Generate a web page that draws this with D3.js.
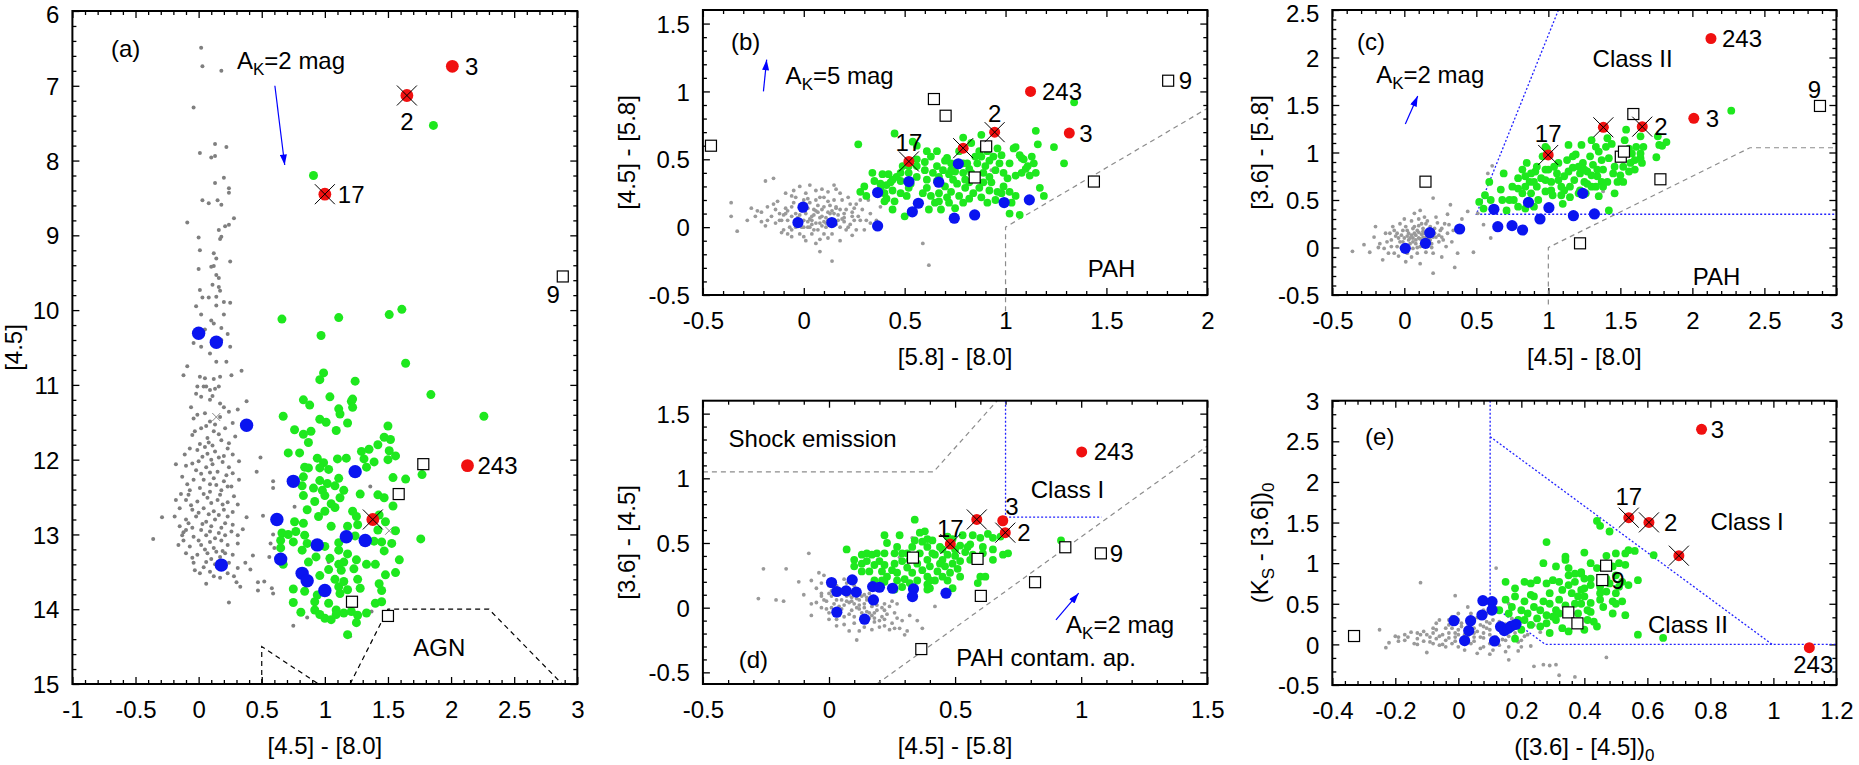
<!DOCTYPE html>
<html>
<head>
<meta charset="utf-8">
<script src="https://cdn.jsdelivr.net/npm/d3@7"></script>
<style>
    body { margin: 0; background: #fff; }
    svg text { font-family: "Liberation Sans", Arial, Helvetica, sans-serif; fill: #000; }
</style>
</head>
<body>
<svg id="chart" width="1859" height="765"></svg>
<script>
// ---- panel (a): [4.5] vs [4.5]-[8.0] ----
const aXTicks = [-1, -0.5, 0, 0.5, 1, 1.5, 2, 2.5, 3];
const aYTicks = [6, 7, 8, 9, 10, 11, 12, 13, 14, 15];
const aGray = [
    [0.02,6.49],[0.03,6.74],[0.18,6.80],[-0.04,7.29],[0.01,7.90],[0.13,7.78],[0.22,7.82],[0.10,7.96],[0.13,7.94],[0.20,8.23],
    [0.13,8.30],[0.24,8.37],[0.24,8.43],[0.03,8.53],[0.08,8.57],[0.15,8.53],[0.18,8.59],[-0.09,8.83],[0.28,8.77],[0.24,8.86],
    [0.21,8.88],[0.16,8.93],[0.00,9.03],[0.18,9.02],[0.17,9.05],[0.01,9.20],[0.12,9.24],[0.14,9.31],[0.25,9.35],[0.00,9.45],
    [0.10,9.42],[0.12,9.41],[0.14,9.53],[0.16,9.57],[0.11,9.66],[0.16,9.69],[0.17,9.74],[0.01,9.73],[0.03,9.83],[0.08,9.83],
    [0.14,9.82],[0.20,9.89],[0.25,9.90],[-0.02,9.95],[0.14,9.94],[0.02,10.06],[0.20,10.06],[0.10,10.14],[0.12,10.18],[0.05,10.26],
    [0.18,10.24],[0.23,10.32],[-0.02,10.32],[0.02,10.49],[0.18,10.40],[0.25,10.49],[-0.04,10.44],[0.09,10.58],[0.14,10.69],[0.22,10.69],
    [0.34,10.81],[-0.09,10.75],[-0.12,10.87],[0.01,10.89],[0.05,10.91],[0.12,10.92],[0.17,10.89],[0.26,10.87],[-0.01,11.02],[0.04,11.02],
    [0.09,11.07],[0.16,11.02],[0.06,11.02],[0.13,11.05],[0.02,11.16],[0.09,11.20],[0.17,11.25],[0.38,11.22],[0.31,11.33],[0.24,11.36],
    [0.05,11.38],[-0.04,11.45],[0.09,11.49],[0.17,11.43],[0.02,11.58],[0.12,11.62],[0.21,11.58],[-0.05,11.67],[0.07,11.71],[0.18,11.74],
    [0.29,11.69],[-0.07,11.85],[-0.01,11.87],[0.05,11.83],[0.13,11.89],[0.23,11.85],[0.03,11.96],[0.10,12.00],[0.20,11.95],[0.32,12.02],
    [-0.18,12.06],[-0.10,12.08],[-0.02,12.14],[0.06,12.10],[0.15,12.16],[0.24,12.10],[0.49,11.97],[0.46,12.16],[-0.13,12.23],[-0.04,12.27],
    [0.04,12.27],[0.12,12.25],[0.20,12.29],[0.32,12.27],[0.59,12.29],[-0.07,12.41],[0.01,12.38],[0.09,12.43],[0.18,12.41],[0.26,12.36],
    [0.59,12.38],[-0.18,12.54],[-0.10,12.54],[-0.01,12.56],[0.07,12.51],[0.15,12.54],[0.23,12.57],[0.31,12.60],[-0.15,12.65],[-0.05,12.67],
    [0.04,12.65],[0.12,12.69],[0.20,12.67],[-0.29,12.77],[-0.19,12.76],[-0.10,12.80],[-0.02,12.76],[0.06,12.83],[0.13,12.80],[0.23,12.76],
    [0.38,12.77],[0.51,12.75],[0.76,12.63],[-0.15,12.89],[-0.05,12.91],[0.02,12.94],[0.10,12.89],[0.18,12.91],[0.27,12.87],[-0.13,13.01],
    [-0.04,13.03],[0.06,13.01],[0.13,13.05],[0.21,13.01],[0.31,13.01],[-0.36,13.06],[0.59,13.00],[-0.16,13.14],[-0.07,13.16],[0.02,13.14],
    [0.12,13.18],[0.23,13.14],[0.31,13.12],[0.57,13.12],[-0.10,13.25],[-0.01,13.27],[0.07,13.25],[0.17,13.30],[0.27,13.27],[0.56,13.30],
    [-0.04,13.38],[0.06,13.37],[0.13,13.40],[0.24,13.38],[0.37,13.38],[0.31,13.45],[0.41,13.47],[0.01,13.52],[0.12,13.56],[0.23,13.52],
    [0.30,13.64],[0.06,13.66],[0.47,13.64],[0.52,13.63],[0.47,13.75],[0.58,13.72],[0.24,13.91],[0.75,14.22],[0.86,14.11],[0.93,13.79],
    [1.03,13.37],[0.59,13.79],[1.36,12.36],[1.37,14.03],[1.20,14.36],[0.60,13.18],[-0.08,12.47],[0.00,12.02],[0.09,12.33],[-0.12,12.97],
    [0.28,12.49],[0.35,12.93],[0.43,13.28],[-0.03,13.48],[0.19,13.22],[0.33,13.70],[0.08,11.77],[0.22,12.21],[-0.06,11.30],[0.27,11.51],
    [-0.02,11.12],[0.11,11.15],[0.20,11.30],[-0.01,11.40],[0.13,11.53],[0.06,11.55],[-0.03,11.62],[0.16,11.66],[0.24,11.78],[0.01,11.79],
    [0.11,11.81],[-0.11,11.93],[0.07,11.92],[0.16,11.97],[0.27,11.93],[-0.05,12.05],[0.11,12.06],[0.19,12.03],[0.02,12.19],[0.09,12.17],
    [0.27,12.18],[-0.09,12.33],[0.14,12.34],[0.23,12.36],[0.04,12.46],[0.17,12.47],[-0.14,12.46],[0.10,12.58],[0.19,12.60],[-0.06,12.61],
    [0.00,12.71],[0.08,12.73],[0.16,12.74],[0.27,12.70],[-0.08,12.85],[0.03,12.86],[0.21,12.85],[0.09,12.96],[-0.10,12.94],[0.16,12.98],
    [0.26,12.96],[0.00,13.08],[0.09,13.10],[0.18,13.08],[-0.12,13.08],[0.05,13.20],[0.14,13.23],[0.21,13.25],[-0.05,13.31],[0.10,13.33],
    [0.19,13.43],[0.04,13.44],[0.09,13.50],[0.17,13.58],[0.28,13.56]
];
const aGrayCross = [[0.14,11.43],[1.51,12.95]];
const aGreen = [
    [0.91,8.2],[1.86,7.53],[0.66,10.12],[1.11,10.10],[1.51,10.06],[1.61,9.99],[0.97,10.34],[1.64,10.71],[0.99,10.84],[0.96,10.93],
    [1.24,10.95],[1.84,11.13],[0.83,11.2],[1.04,11.16],[1.22,11.19],[2.26,11.42],[0.67,11.42],[0.88,11.27],[1.11,11.32],[1.21,11.22],
    [1.22,11.30],[1.12,11.39],[0.96,11.46],[1.01,11.50],[1.18,11.51],[1.50,11.55],[0.76,11.6],[0.89,11.62],[0.83,11.66],[1.09,11.61],
    [1.47,11.70],[1.52,11.73],[0.87,11.77],[1.42,11.80],[0.71,11.91],[0.80,11.91],[1.29,11.89],[1.35,11.86],[1.51,11.88],[0.94,11.98],
    [0.99,12.04],[1.10,11.99],[1.17,11.98],[1.31,11.99],[1.39,12.03],[1.50,12.0],[1.56,11.95],[0.84,12.10],[0.87,12.11],[0.96,12.11],
    [1.03,12.13],[1.33,12.10],[1.77,12.20],[1.54,12.24],[1.64,12.26],[1.11,12.25],[0.83,12.23],[0.96,12.28],[1.02,12.32],[1.08,12.35],
    [0.82,12.35],[0.91,12.38],[0.98,12.41],[1.15,12.41],[1.28,12.46],[1.42,12.47],[0.83,12.48],[1.00,12.48],[1.12,12.51],[1.47,12.51],
    [1.54,12.62],[1.05,12.59],[0.92,12.56],[0.86,12.67],[1.08,12.64],[1.00,12.69],[0.76,12.83],[0.83,12.85],[0.95,12.76],[1.22,12.69],
    [1.25,12.76],[1.43,12.74],[1.48,12.83],[1.05,12.89],[1.18,12.89],[1.26,12.87],[1.42,12.94],[1.56,12.95],[0.66,12.98],[0.71,13.0],
    [0.77,12.96],[0.84,13.01],[0.65,13.08],[0.75,13.10],[0.86,13.12],[1.00,13.16],[1.11,13.11],[1.24,13.02],[1.39,13.09],[1.45,13.10],
    [1.53,13.12],[1.76,13.06],[0.65,13.18],[0.82,13.21],[1.11,13.21],[1.18,13.26],[1.47,13.22],[0.93,13.30],[1.04,13.32],[1.15,13.37],
    [1.25,13.34],[1.33,13.40],[1.40,13.40],[1.59,13.34],[0.67,13.40],[0.87,13.37],[1.11,13.40],[1.23,13.46],[1.13,13.48],[1.48,13.54],
    [1.56,13.51],[1.03,13.47],[0.96,13.55],[1.08,13.60],[1.15,13.63],[1.26,13.60],[1.43,13.66],[0.75,13.73],[0.84,13.76],[1.11,13.70],
    [1.18,13.74],[1.28,13.72],[1.45,13.75],[0.94,13.81],[1.12,13.79],[0.75,13.91],[0.92,13.90],[1.03,13.92],[1.40,13.92],[1.45,13.90],
    [0.81,14.04],[0.92,14.01],[0.96,14.07],[1.09,14.01],[1.15,14.05],[1.21,14.03],[1.26,14.08],[1.33,14.05],[1.00,14.12],[1.05,14.14],
    [1.09,14.07],[1.25,14.18],[1.18,14.34]
];
const aBlue = [[0.0,10.31],[0.14,10.43],[0.38,11.54],[1.24,12.16],[0.75,12.29],[0.62,12.80],[1.17,13.03],[1.32,13.08],[0.94,13.14],[0.65,13.33],[0.18,13.41],[0.82,13.52],[0.86,13.62],[1.0,13.75]];
const aSquares = [[2.885,9.55,"9"],[1.78,12.06,""],[1.585,12.46,""],[1.215,13.9,""],[1.5,14.09,""]];
const aRed = [[2.01,6.74,"3",false],[1.65,7.13,"2",true],[1.0,8.45,"17",true],[2.13,12.08,"243",false],[1.38,12.80,"",true]];
const aLines = [[[0.5,15],[0.5,14.5],[0.95,15]],[[1.2,15],[1.5,14],[2.3,14],[2.88,15]]];
const aArrow = [[0.604,7.0],[0.682,8.06]];

// ---- panel (b): [4.5]-[5.8] vs [5.8]-[8.0] ----
const bXTicks = [-0.5, 0, 0.5, 1, 1.5, 2];
const bYTicks = [-0.5, 0, 0.5, 1, 1.5];
const bGray = [
    [-0.19,0.34],[-0.15,0.36],[-0.36,0.18],[-0.36,0.08],[-0.33,-0.03],[-0.26,0.14],[-0.21,0.11],[-0.18,0.15],[-0.16,0.08],[-0.13,0.19],
    [-0.12,0.10],[-0.09,0.14],[-0.08,0.05],[-0.06,0.23],[-0.06,0.15],[-0.04,0.10],[-0.02,0.30],[0.0,0.20],[0.01,0.10],[0.02,0.0],
    [0.03,0.18],[0.04,0.08],[0.05,0.13],[0.06,0.20],[0.06,0.03],[0.08,0.22],[0.09,0.08],[0.10,0.15],[0.11,0.0],[0.12,0.19],
    [0.13,0.10],[0.15,0.31],[0.16,0.15],[0.17,0.05],[0.19,0.20],[0.20,0.10],[0.21,-0.02],[0.23,0.17],[0.24,0.08],[0.25,0.14],
    [0.26,-0.02],[0.28,0.20],[0.30,-0.02],[0.33,0.03],[-0.02,-0.05],[0.0,-0.07],[0.04,-0.05],[0.08,-0.09],[0.08,-0.18],[0.14,-0.25],
    [-0.06,-0.07],[-0.10,-0.02],[-0.14,0.03],[-0.18,0.05],[-0.24,0.08],[-0.21,0.04],[-0.08,-0.05],[-0.04,0.0],[0.14,-0.05],[0.18,0.0],
    [0.10,-0.05],[-0.05,0.27],[-0.09,0.25],[0.01,0.25],[0.12,0.26],[0.22,0.22],[-0.02,0.15],[0.02,0.14],[0.07,0.16],[0.11,0.07],
    [0.15,0.10],[0.18,0.13],[-0.06,0.08],[-0.10,0.09],[-0.14,0.13],[0.0,0.05],[0.04,0.02],[0.08,0.03],[0.12,0.05],[0.16,0.02],
    [-0.01,0.0],[-0.07,0.0],[-0.11,0.05],[0.20,0.04],[0.23,0.02],[0.25,0.05],[0.28,0.05],[0.31,0.05],[0.59,-0.12],[0.62,-0.28],
    [0.33,0.10],[0.93,0.42],[0.03,0.06],[0.07,0.11],[-0.03,0.04],[0.09,0.01],[0.05,-0.02],[-0.01,0.12],[0.14,0.12],[0.01,0.17],
    [-0.12,0.05],[-0.08,0.12],[-0.05,0.18],[-0.03,0.07],[0.0,0.14],[0.02,0.21],[0.03,0.0],[0.05,0.09],[0.06,0.27],[0.07,-0.02],
    [0.09,0.13],[0.10,0.22],[0.11,0.03],[0.13,0.16],[0.14,0.04],[0.15,0.20],[0.17,0.09],[0.18,0.25],[0.19,0.06],[0.21,0.13],
    [0.22,0.0],[0.24,0.11],[0.26,0.17],[0.27,0.08],[0.29,0.13],[-0.15,0.17],[-0.19,0.01],[-0.23,0.12],[-0.28,0.05],[-0.11,-0.04],
    [0.01,-0.1],[0.06,-0.12],[0.12,-0.08],[0.18,-0.1],[0.24,-0.06],[-0.04,0.22],[0.03,0.31],[0.09,0.28],[0.16,0.28],[0.36,0.05],
    [0.38,0.15],[0.32,0.2],[-0.06,-0.02],[0.0,0.0],[0.04,0.05],[0.08,0.07],[0.12,0.11],[0.16,0.14],[0.2,0.07],[-0.02,0.09],
    [0.06,0.12],[0.1,0.04],[0.14,0.01],[0.02,0.04],[-0.09,0.1]
];
const bGreen = [
    [0.27,0.61],[0.45,0.69],[0.54,0.63],[0.56,0.60],[0.34,0.40],[0.39,0.39],[0.42,0.39],[0.46,0.37],[0.48,0.40],[0.52,0.45],
    [0.56,0.45],[0.60,0.48],[0.63,0.52],[0.66,0.56],[0.61,0.56],[0.71,0.51],[0.77,0.56],[0.79,0.66],[0.83,0.62],[0.88,0.68],
    [0.91,0.56],[0.94,0.52],[0.98,0.53],[1.05,0.59],[1.07,0.53],[1.15,0.71],[1.16,0.61],[1.24,0.59],[1.29,0.47],[1.34,0.92],
    [1.11,0.45],[1.14,0.47],[1.08,0.40],[1.15,0.40],[1.17,0.29],[1.19,0.23],[1.03,0.18],[1.07,0.09],[1.02,0.10],[0.95,0.20],
    [0.96,0.26],[0.99,0.30],[1.01,0.36],[0.99,0.40],[0.95,0.42],[0.92,0.37],[0.90,0.45],[0.86,0.47],[0.82,0.43],[0.79,0.40],
    [0.75,0.41],[0.72,0.39],[0.69,0.42],[0.66,0.45],[0.64,0.40],[0.60,0.42],[0.56,0.37],[0.53,0.32],[0.48,0.34],[0.44,0.35],
    [0.41,0.31],[0.38,0.32],[0.30,0.30],[0.28,0.26],[0.31,0.23],[0.40,0.25],[0.44,0.27],[0.48,0.25],[0.51,0.23],[0.40,0.19],
    [0.45,0.19],[0.44,0.13],[0.50,0.08],[0.59,0.25],[0.61,0.29],[0.63,0.23],[0.65,0.18],[0.62,0.13],[0.67,0.25],[0.70,0.30],
    [0.71,0.22],[0.73,0.26],[0.76,0.32],[0.77,0.23],[0.80,0.29],[0.82,0.33],[0.84,0.25],[0.87,0.29],[0.89,0.33],[0.93,0.33],
    [0.92,0.27],[0.88,0.22],[0.91,0.18],[0.79,0.18],[0.75,0.14],[0.68,0.13],[0.81,0.47],[0.85,0.52],[0.88,0.52],[0.92,0.49],
    [0.73,0.47],[0.70,0.49],[0.67,0.37],[0.79,0.47],[1.02,0.47],[1.10,0.43],[1.12,0.38],[1.05,0.23],[0.61,0.35],[0.52,0.40],
    [0.49,0.45],[0.66,0.34],[0.74,0.35],[0.83,0.40],[0.89,0.40],[0.97,0.47],[1.13,0.52],[1.09,0.50],[0.96,0.58],[0.87,0.56],
    [1.04,0.58],[1.05,0.38],[1.02,0.26],[0.98,0.25],[1.08,0.51],[0.73,0.42],[0.80,0.35],[0.56,0.50],[0.43,0.33],[0.52,0.29],
    [0.38,0.28],[0.35,0.34],[0.41,0.21],[0.67,0.19],[0.72,0.18],[0.82,0.21]
];
const bBlue = [[-0.004,0.147],[-0.029,0.034],[0.139,0.034],[0.366,0.255],[0.366,0.009],[0.521,0.336],[0.669,0.331],[0.766,0.467],[0.568,0.176],[0.538,0.113],[0.746,0.066],[0.847,0.09],[0.993,0.181],[1.118,0.201]];
const bSquares = [[-0.46,0.60,""],[0.645,0.944,""],[0.703,0.821,""],[0.904,0.595,""],[0.847,0.366,""],[1.438,0.336,""],[1.806,1.079,"9"]];
const bRed = [[1.124,1.0,"243",false],[1.316,0.693,"3",false],[0.946,0.70,"2",true],[0.79,0.582,"",true],[0.521,0.484,"17",true]];
const bGrayLines = [[[1,-0.62],[1,0],[2,0.875]]];
const bArrow = [[-0.2,1.0],[-0.184,1.234]];

// ---- panel (c): [3.6]-[5.8] vs [4.5]-[8.0] ----
const cXTicks = [-0.5, 0, 0.5, 1, 1.5, 2, 2.5, 3];
const cYTicks = [-0.5, 0, 0.5, 1, 1.5, 2, 2.5];
const cGray = [
    [-0.36,-0.04],[-0.28,0.03],[-0.21,0.11],[-0.20,0.22],[-0.17,0.04],[-0.15,-0.13],[-0.13,0.15],[-0.11,-0.06],[-0.09,0.08],[-0.07,0.18],
    [-0.05,0.01],[-0.03,0.25],[-0.02,0.13],[-0.01,0.06],[0.01,0.22],[0.02,-0.06],[0.03,0.15],[0.05,0.28],[0.06,0.06],[0.06,0.20],
    [0.07,0.36],[0.08,0.13],[0.09,-0.06],[0.10,0.23],[0.11,0.09],[0.11,0.39],[0.13,0.17],[0.14,0.32],[0.16,0.01],[0.17,0.09],
    [0.18,0.22],[0.20,0.52],[0.20,-0.06],[0.21,0.15],[0.22,0.32],[0.24,0.06],[0.25,0.18],[0.26,0.11],[0.28,0.25],[0.29,0.01],
    [0.30,0.15],[0.32,0.45],[0.33,0.06],[0.35,-0.21],[0.37,-0.06],[0.48,-0.05],[0.20,-0.27],[0.60,0.10],[0.61,0.86],[0.58,0.78],
    [0.11,-0.17],[0.01,-0.15],[-0.07,-0.06],[-0.14,-0.01],[-0.10,0.15],[-0.05,0.15],[-0.01,0.18],[0.03,0.08],[0.07,0.15],[0.09,0.18],
    [0.13,0.11],[0.14,0.06],[0.17,0.15],[0.20,0.11],[0.22,0.11],[0.11,0.01],[0.06,-0.01],[-0.03,0.06],[-0.09,0.01],[1.38,0.59],
    [0.51,0.36],[0.55,0.24],[0.04,0.10],[0.08,0.04],[0.12,0.14],[-0.04,0.10],[0.15,0.25],[0.00,0.02],[0.19,0.04],[0.10,0.30],
    [-0.06,0.12],[-0.02,0.0],[0.0,0.1],[0.02,0.18],[0.04,0.04],[0.05,0.13],[0.07,0.22],[0.08,0.08],[0.09,0.0],[0.1,0.16],
    [0.12,0.25],[0.12,0.04],[0.13,0.2],[0.15,0.1],[0.16,0.28],[0.18,0.14],[0.19,0.0],[0.21,0.2],[0.23,0.26],[0.24,0.13],
    [0.26,0.2],[0.27,0.08],[0.31,0.24],[0.34,0.18],[0.4,0.3],[0.44,0.38],[-0.12,0.06],[-0.18,0.0],[-0.24,-0.05],[-0.08,0.22],
    [0.0,0.3],[0.05,-0.1],[0.15,-0.05],[0.26,-0.1],[0.3,0.35],[-0.04,-0.09],[0.06,0.1],[0.1,0.1],[0.02,0.12],[0.14,0.15],[0.18,0.08]
];
const cGreen = [
    [0.56,0.55],[0.59,0.69],[0.52,0.48],[0.55,0.41],[0.60,0.50],[0.67,0.61],[0.69,0.78],[0.68,0.50],[0.71,0.39],[0.75,0.64],
    [0.76,0.50],[0.79,0.73],[0.82,0.82],[0.82,0.57],[0.85,0.89],[0.87,0.69],[0.88,0.57],[0.91,0.80],[0.92,0.64],[0.93,0.50],
    [0.95,0.73],[0.96,0.96],[0.98,0.59],[0.99,1.04],[1.00,0.82],[1.02,0.69],[1.03,0.55],[1.06,0.78],[1.07,0.89],[1.09,0.64],
    [1.10,0.46],[1.11,0.75],[1.13,0.92],[1.14,1.08],[1.15,0.64],[1.17,0.84],[1.18,0.71],[1.19,0.98],[1.21,0.57],[1.22,0.78],
    [1.23,1.08],[1.24,0.89],[1.25,0.69],[1.27,0.80],[1.29,0.96],[1.30,0.64],[1.31,0.87],[1.33,1.06],[1.34,0.75],[1.35,0.54],
    [1.37,0.92],[1.38,0.82],[1.40,1.06],[1.41,0.69],[1.42,0.94],[1.42,0.39],[1.44,1.09],[1.45,0.78],[1.46,0.85],[1.48,0.69],
    [1.49,0.96],[1.50,0.76],[1.52,0.85],[1.53,1.13],[1.54,1.24],[1.56,1.04],[1.57,0.89],[1.58,0.99],[1.60,0.82],[1.61,1.06],
    [1.64,1.17],[1.64,0.94],[1.65,0.89],[1.66,1.06],[1.76,1.17],[1.77,1.08],[1.75,0.95],[1.79,1.07],[1.82,1.11],[2.27,1.44],
    [0.73,0.50],[0.79,0.43],[0.84,0.41],[0.90,0.43],[0.79,0.62],[0.84,0.64],[0.90,0.69],[0.84,0.75],[0.98,0.71],[1.02,0.60],
    [1.07,0.71],[1.11,0.60],[1.14,0.80],[1.21,0.85],[1.15,0.53],[1.09,0.55],[1.22,0.60],[1.26,0.57],[1.27,0.67],[1.33,0.64],
    [1.30,0.76],[1.37,0.69],[1.38,0.64],[1.46,0.57],[1.52,0.69],[1.56,0.80],[1.60,0.92],[1.64,0.99],[1.34,0.82],[1.25,0.82],
    [1.17,0.96],[1.04,0.85],[0.98,0.82],[0.92,0.85],[0.88,0.78],[1.35,1.01],[1.30,1.13],[1.41,1.15],[0.98,1.06]
];
const cBlue = [[0.007,-0.009],[0.147,0.044],[0.177,0.156],[0.384,0.195],[0.622,0.402],[0.649,0.219],[0.748,0.230],[0.821,0.184],[0.862,0.475],[0.942,0.30],[1.004,0.419],[1.174,0.335],[1.239,0.57],[1.32,0.353]];
const cSquares = [[0.147,0.693,""],[1.59,1.405,""],[1.503,0.956,""],[1.525,1.009,""],[1.778,0.718,""],[1.22,0.044,""],[2.886,1.49,"9"]];
const cRed = [[2.129,2.20,"243",false],[2.01,1.36,"3",false],[1.382,1.265,"",true],[1.652,1.272,"2",true],[0.999,0.974,"17",true]];
const cGrayLines = [[[1,-0.6],[1,0],[2.4,1.05],[3,1.05]]];
const cBlueLines = [[[1.07,2.5],[0.5,0.35],[3,0.35]]];
const cArrow = [[0.007,1.30],[0.093,1.595]];

// ---- panel (d): [3.6]-[4.5] vs [4.5]-[5.8] ----
const dXTicks = [-0.5, 0, 0.5, 1, 1.5];
const dYTicks = [-0.5, 0, 0.5, 1, 1.5];
const dGray = [
    [-0.26,0.30],[-0.17,0.30],[-0.28,0.07],[-0.21,0.06],[-0.18,0.05],[-0.08,0.42],[-0.07,0.21],[-0.04,0.27],[-0.03,0.19],[-0.03,0.11],
    [-0.02,0.06],[-0.01,-0.01],[0.0,0.17],[0.01,0.09],[0.02,0.03],[0.03,-0.04],[0.04,0.11],[0.05,0.06],[0.05,-0.01],[0.06,0.15],
    [0.06,-0.07],[0.07,0.05],[0.08,0.10],[0.09,-0.02],[0.10,0.03],[0.10,-0.07],[0.11,0.07],[0.12,-0.01],[0.13,-0.04],[0.14,0.03],
    [0.14,0.10],[0.15,-0.03],[0.16,-0.08],[0.17,0.01],[0.18,-0.04],[0.18,-0.11],[0.19,-0.02],[0.20,-0.15],[0.21,-0.07],[0.22,-0.09],
    [0.24,-0.17],[0.26,-0.16],[0.28,-0.16],[0.30,-0.21],[0.31,-0.18],[0.37,-0.16],[0.42,0.01],[0.11,-0.25],[-0.07,-0.06],[-0.03,0.0],
    [0.0,-0.04],[0.03,-0.09],[0.06,-0.13],[0.10,-0.12],[0.14,-0.15],[-0.03,0.09],[0.0,0.11],[0.03,0.17],[0.06,0.22],[0.10,0.17],
    [0.13,0.09],[0.16,0.11],[0.19,0.06],[0.22,0.03],[0.22,-0.02],[0.24,0.01],[0.27,0.03],[0.26,-0.04],[0.22,-0.14],[0.28,0.39],
    [0.33,0.54],[0.33,0.46],[0.04,0.01],[0.08,0.04],[0.12,0.02],[0.01,0.13],[0.09,0.08],[0.17,-0.06],[-0.05,0.04],[0.15,0.06],
    [-0.01,0.05],[0.01,0.0],[0.02,0.12],[0.03,0.06],[0.04,-0.02],[0.05,0.14],[0.06,0.02],[0.07,0.09],[0.08,-0.05],[0.09,0.05],
    [0.1,0.12],[0.11,0.0],[0.12,0.06],[0.13,-0.08],[0.14,0.0],[0.15,0.08],[0.16,-0.04],[0.17,0.05],[0.18,-0.08],[0.19,0.02],
    [0.2,-0.1],[0.21,0.0],[0.23,-0.05],[0.25,-0.12],[0.25,0.05],[0.27,-0.08],[0.29,-0.1],[0.32,-0.06],[0.35,-0.1],[-0.05,0.15],
    [-0.1,0.1],[-0.12,0.2],[-0.02,0.25],[0.0,-0.09],[0.03,-0.14],[0.08,-0.18],[0.12,-0.18],[0.17,-0.17],[0.02,0.2],[0.07,0.19],[-0.07,0.03]
];
const dGreen = [
    [0.34,0.68],[0.07,0.45],[0.15,0.42],[0.22,0.56],[0.28,0.56],[0.23,0.50],[0.38,0.59],[0.39,0.53],[0.34,0.52],[0.44,0.47],
    [0.42,0.41],[0.45,0.37],[0.52,0.48],[0.53,0.56],[0.56,0.49],[0.57,0.56],[0.60,0.54],[0.63,0.57],[0.65,0.54],[0.68,0.55],
    [0.61,0.47],[0.65,0.45],[0.65,0.37],[0.69,0.41],[0.71,0.42],[0.50,0.40],[0.52,0.36],[0.51,0.30],[0.48,0.27],[0.47,0.21],
    [0.60,0.24],[0.62,0.24],[0.59,0.19],[0.92,0.52],[0.10,0.37],[0.13,0.34],[0.10,0.32],[0.15,0.36],[0.13,0.28],[0.16,0.28],
    [0.18,0.33],[0.20,0.36],[0.21,0.28],[0.22,0.33],[0.23,0.24],[0.25,0.29],[0.26,0.34],[0.27,0.21],[0.27,0.27],[0.29,0.36],
    [0.30,0.22],[0.31,0.31],[0.31,0.42],[0.32,0.19],[0.33,0.27],[0.35,0.34],[0.35,0.21],[0.36,0.42],[0.37,0.29],[0.39,0.47],
    [0.39,0.18],[0.39,0.37],[0.39,0.24],[0.40,0.32],[0.41,0.42],[0.42,0.21],[0.43,0.28],[0.44,0.34],[0.45,0.45],[0.45,0.24],
    [0.46,0.32],[0.47,0.41],[0.49,0.34],[0.50,0.45],[0.54,0.43],[0.56,0.37],[0.57,0.41],[0.39,0.14],[0.40,0.15],[0.22,0.20],
    [0.21,0.21],[0.18,0.21],[0.32,0.37],[0.29,0.42],[0.37,0.51],[0.41,0.52],[0.47,0.55],[0.49,0.53],[0.55,0.47],[0.61,0.42],
    [0.36,0.58],[0.33,0.47],[0.26,0.42],[0.22,0.42],[0.19,0.42],[0.27,0.47],[0.17,0.41],[0.13,0.41],[0.52,0.24],[0.49,0.15],
    [0.40,0.21],[0.29,0.16],[0.26,0.14]
];
const dBlue = [[0.01,0.194],[0.031,0.125],[0.068,0.13],[0.092,0.215],[0.108,0.12],[0.031,-0.035],[0.141,-0.089],[0.173,0.163],[0.176,0.06],[0.2,0.158],[0.252,0.15],[0.335,0.145],[0.331,0.086],[0.464,0.112]];
const dSquares = [[0.333,0.387,""],[0.589,0.377,""],[0.602,0.091,""],[0.366,-0.32,""],[0.817,0.197,""],[0.937,0.467,""],[1.078,0.42,"9"]];
const dRed = [[1.002,1.204,"243",false],[0.689,0.672,"3",false],[0.586,0.682,"",true],[0.699,0.580,"2",true],[0.481,0.492,"17",true]];
const dGrayLines = [[[-0.5,1.05],[0.4146,1.05],[0.6667,1.6]],[[0.19,-0.59],[1.5,1.25]]];
const dBlueLines = [[[0.7,1.6],[0.7,0.7],[1.08,0.7]]];
const dArrow = [[0.90,-0.094],[0.99,0.112]];

// ---- panel (e): (Ks-[3.6])0 vs ([3.6]-[4.5])0 ----
const eXTicks = [-0.4, -0.2, 0, 0.2, 0.4, 0.6, 0.8, 1, 1.2];
const eYTicks = [-0.5, 0, 0.5, 1, 1.5, 2, 2.5, 3];
const eGray = [
    [-0.12,0.76],[-0.25,0.18],[-0.23,-0.04],[-0.19,0.09],[-0.17,0.05],[-0.16,0.09],[-0.14,0.01],[-0.13,0.07],[-0.12,0.12],[-0.11,0.04],
    [-0.10,-0.10],[-0.09,0.09],[-0.08,0.01],[-0.08,0.14],[-0.07,0.07],[-0.06,-0.01],[-0.05,0.12],[-0.04,0.20],[-0.04,0.05],[-0.04,-0.03],
    [-0.03,0.14],[-0.03,0.24],[-0.02,0.01],[-0.01,0.09],[-0.01,0.60],[0.0,0.18],[0.0,-0.03],[0.01,0.26],[0.02,-0.07],[0.02,0.12],
    [0.04,0.38],[0.04,0.01],[0.05,0.20],[0.05,0.31],[0.06,-0.11],[0.07,0.09],[0.07,0.24],[0.08,-0.03],[0.08,0.14],[0.09,0.28],
    [0.10,0.01],[0.10,0.18],[0.11,-0.07],[0.12,0.94],[0.12,0.09],[0.13,0.28],[0.13,-0.01],[0.14,0.14],[0.15,-0.09],[0.15,0.05],
    [0.16,-0.19],[0.16,-0.03],[0.18,0.14],[0.19,0.03],[0.20,-0.03],[0.24,-0.27],[0.27,-0.25],[0.29,-0.26],[0.31,-0.25],[0.32,-0.38],
    [0.37,-0.40],[0.47,-0.16],[0.25,0.79],[0.20,0.05],[0.22,0.12],[0.08,0.42],[0.07,0.38],[0.09,0.38],[0.03,0.46],[0.0,0.38],
    [-0.02,0.34],[-0.03,0.30],[-0.07,0.26],[-0.08,0.20],[-0.11,0.16],[-0.13,0.14],[-0.17,0.12],[-0.19,0.04],[0.08,0.22],[0.10,0.26],
    [0.05,0.14],[0.02,0.05],[-0.01,0.14],[0.03,0.18],[0.05,0.09],
    [-0.1,0.12],[-0.09,0.03],[-0.07,0.18],[-0.06,0.1],[-0.05,0.0],[-0.03,0.08],[-0.02,0.2],[-0.01,0.04],[0.0,0.12],[0.01,0.22],
    [0.02,0.0],[0.03,0.1],[0.04,0.28],[0.05,0.04],[0.06,0.16],[0.07,-0.05],[0.08,0.08],[0.09,0.2],[0.1,0.12],[0.11,0.3],
    [0.12,0.02],[0.13,0.2],[0.14,0.06],[0.15,0.25],[0.16,0.1],[0.17,0.32],[0.18,0.2],[0.2,0.28],[0.21,0.1],[0.22,0.36],
    [0.24,0.24],[0.26,0.15],[0.12,0.45],[0.16,0.5],[-0.2,0.1],[-0.22,0.02],[-0.15,0.15],[-0.13,0.0],[-0.06,0.3],[0.0,0.3],
    [0.06,0.33],[0.19,-0.08],[0.23,-0.02],[0.1,-0.12]
];
const eGreen = [
    [0.44,1.52],[0.45,1.46],[0.48,1.39],[0.28,1.26],[0.62,1.10],[0.47,1.09],[0.50,1.12],[0.53,1.12],[0.56,1.15],[0.40,1.13],
    [0.34,1.08],[0.34,1.04],[0.42,1.00],[0.27,1.00],[0.31,0.96],[0.35,0.94],[0.39,0.87],[0.39,0.89],[0.44,0.94],[0.49,0.96],
    [0.51,1.00],[0.53,0.98],[0.57,0.79],[0.50,0.85],[0.52,0.77],[0.54,0.73],[0.48,0.75],[0.47,0.81],[0.15,0.77],[0.18,0.69],
    [0.21,0.77],[0.23,0.75],[0.25,0.79],[0.28,0.75],[0.30,0.79],[0.32,0.77],[0.35,0.73],[0.37,0.77],[0.40,0.69],[0.42,0.73],
    [0.45,0.63],[0.47,0.65],[0.50,0.63],[0.52,0.53],[0.53,0.36],[0.49,0.38],[0.45,0.55],[0.42,0.51],[0.42,0.40],[0.41,0.30],
    [0.40,0.18],[0.44,0.22],[0.57,0.12],[0.65,0.08],[0.18,0.07],[0.20,0.18],[0.19,0.30],[0.20,0.42],[0.21,0.53],[0.23,0.61],
    [0.24,0.46],[0.25,0.32],[0.26,0.22],[0.28,0.36],[0.29,0.50],[0.29,0.63],[0.31,0.42],[0.31,0.30],[0.32,0.55],[0.33,0.67],
    [0.34,0.48],[0.35,0.16],[0.36,0.63],[0.37,0.50],[0.38,0.59],[0.38,0.38],[0.39,0.67],[0.39,0.50],[0.40,0.59],[0.41,0.42],
    [0.13,0.42],[0.15,0.55],[0.16,0.38],[0.17,0.46],[0.18,0.59],[0.21,0.30],[0.22,0.38],[0.23,0.24],[0.24,0.59],[0.26,0.42],
    [0.27,0.53],[0.28,0.26],[0.30,0.34],[0.32,0.38],[0.29,0.14],[0.33,0.20],[0.38,0.26],[0.43,0.28],[0.46,0.46],[0.49,0.53],
    [0.50,0.50],[0.51,0.71],[0.45,0.71],[0.42,0.81],[0.40,0.81],[0.37,0.87],[0.35,0.85],[0.54,1.16]
];
const eBlue = [[-0.014,0.292],[0.02,0.046],[0.033,0.169],[0.039,0.292],[0.075,0.362],[0.078,0.538],[0.107,0.526],[0.107,0.423],[0.115,0.042],[0.134,0.218],[0.146,0.169],[0.158,0.197],[0.168,0.226],[0.183,0.247]];
const eSquares = [[-0.331,0.103,""],[0.469,0.969,""],[0.457,0.792,"9"],[0.349,0.394,""],[0.378,0.259,""]];
const eRed = [[0.772,2.647,"3",false],[0.541,1.56,"17",true],[0.605,1.502,"2",true],[0.70,1.092,"",true],[1.114,-0.04,"243",false]];
const eBlueLines = [[[0.101,3],[0.101,0.5],[0.276,0],[1.2,0]],[[0.101,2.557],[0.996,0]]];

const svg = d3.select("#chart");
const FONT = 24;
const fmt = (d) => String(d);

svg.append("defs").append("marker")
    .attr("id", "head")
    .attr("viewBox", "0 0 12 8")
    .attr("refX", 12).attr("refY", 4)
    .attr("markerWidth", 12).attr("markerHeight", 7)
    .attr("markerUnits", "userSpaceOnUse")
    .attr("orient", "auto")
    .append("path").attr("d", "M0,0 L12,4 L0,8 z").attr("fill", "#0000ff");

// text with subscripts: parts = [[string, isSub], ...]
const richText = (parent, parts) => {
    const t = parent.append("text").attr("font-size", FONT);
    let down = false;
    parts.forEach(([s, sub]) => {
        const span = t.append("tspan").text(s);
        if (sub) {
            span.attr("font-size", 17);
            if (!down) { span.attr("dy", 6); down = true; }
        } else if (down) {
            span.attr("dy", -6);
            down = false;
        }
    });
    return t;
};

const minorTicks = (ticks, n) => {
    let out = [];
    for (let i = 0; i < ticks.length - 1; i++) {
        for (let k = 1; k < n; k++) out.push(ticks[i] + (ticks[i + 1] - ticks[i]) * k / n);
    }
    return out;
};

const drawPanel = (p) => {
    const g = svg.append("g");
    const x = d3.scaleLinear().domain(p.xDomain).range([p.left, p.right]);
    const y = d3.scaleLinear().domain(p.yDomain).range([p.bottom, p.top]);
    const clipId = "clip-" + p.name;
    svg.select("defs").append("clipPath").attr("id", clipId)
        .append("rect")
        .attr("x", p.left).attr("y", p.top)
        .attr("width", p.right - p.left).attr("height", p.bottom - p.top);

    const addAxis = (axisFn, scale, values, size, transform, labels) => {
        const a = g.append("g").attr("transform", transform)
            .call(axisFn(scale).tickValues(values).tickSize(size).tickPadding(0).tickFormat(labels ? fmt : ""));
        a.select(".domain").remove();
        a.selectAll("line").attr("stroke", "#000").attr("stroke-width", 1.3);
        a.attr("font-size", FONT).attr("font-family", null);
        return a;
    };
    const xm = minorTicks(p.xTicks, p.xMinor);
    const ym = minorTicks(p.yTicks, p.yMinor);

    const bx = addAxis(d3.axisBottom, x, p.xTicks, -7, `translate(0,${p.bottom})`, true);
    bx.selectAll("text").attr("y", 34).attr("dy", null);
    addAxis(d3.axisBottom, x, xm, -4, `translate(0,${p.bottom})`, false);
    addAxis(d3.axisTop, x, p.xTicks, -7, `translate(0,${p.top})`, false);
    addAxis(d3.axisTop, x, xm, -4, `translate(0,${p.top})`, false);

    const ly = addAxis(d3.axisLeft, y, p.yTicks, -7, `translate(${p.left},0)`, true);
    // keep the topmost label inside the picture
    ly.selectAll("text").attr("x", -13).attr("dy", (d) => (y(d) < 20 ? "0.47em" : "0.36em"));
    addAxis(d3.axisLeft, y, ym, -4, `translate(${p.left},0)`, false);
    addAxis(d3.axisRight, y, p.yTicks, -7, `translate(${p.right},0)`, false);
    addAxis(d3.axisRight, y, ym, -4, `translate(${p.right},0)`, false);

    // axis titles
    richText(g, p.xTitle)
        .attr("x", (p.left + p.right) / 2).attr("y", p.bottom + 70)
        .attr("text-anchor", "middle");
    richText(g, p.yTitle)
        .attr("text-anchor", "middle")
        .attr("transform", `translate(${p.yTitleX},${(p.top + p.bottom) / 2}) rotate(-90)`);

    const line = d3.line().x((d) => x(d[0])).y((d) => y(d[1]));

    // region boundaries
    (p.grayLines || []).forEach((l) => {
        g.append("path").datum(l).attr("d", line)
            .attr("fill", "none").attr("stroke", p.lineColor || "#8c8c8c")
            .attr("stroke-width", 1.2).attr("stroke-dasharray", "5,4");
    });
    (p.blueLines || []).forEach((l) => {
        g.append("path").datum(l).attr("d", line)
            .attr("fill", "none").attr("stroke", "#2222ff")
            .attr("stroke-width", 1.3).attr("stroke-dasharray", "2,2");
    });

    const body = g.append("g").attr("clip-path", `url(#${clipId})`);

    body.append("g").selectAll("circle").data(p.gray).join("circle")
        .attr("cx", (d) => x(d[0])).attr("cy", (d) => y(d[1]))
        .attr("r", p.r.gray).attr("fill", p.grayColor);

    (p.grayCross || []).forEach((d) => {
        const cx = x(d[0]), cy = y(d[1]);
        body.append("path")
            .attr("d", `M${cx - 4},${cy - 4}L${cx + 4},${cy + 4}M${cx - 4},${cy + 4}L${cx + 4},${cy - 4}`)
            .attr("stroke", "#888").attr("stroke-width", 1);
    });

    body.append("g").selectAll("circle").data(p.green).join("circle")
        .attr("cx", (d) => x(d[0])).attr("cy", (d) => y(d[1]))
        .attr("r", p.r.green).attr("fill", "#1ee81e");

    body.append("g").selectAll("circle").data(p.blue).join("circle")
        .attr("cx", (d) => x(d[0])).attr("cy", (d) => y(d[1]))
        .attr("r", p.r.blue).attr("fill", "#0a14f0");

    const s = 11;
    body.append("g").selectAll("rect").data(p.squares).join("rect")
        .attr("x", (d) => x(d[0]) - s / 2).attr("y", (d) => y(d[1]) - s / 2)
        .attr("width", s).attr("height", s)
        .attr("fill", "#fff").attr("stroke", "#000").attr("stroke-width", 1.2);

    body.append("g").selectAll("circle").data(p.red).join("circle")
        .attr("cx", (d) => x(d[0])).attr("cy", (d) => y(d[1]))
        .attr("r", p.r.red).attr("fill", "#f01010");

    p.red.filter((d) => d[3]).forEach((d) => {
        const cx = x(d[0]), cy = y(d[1]), k = 10;
        body.append("path")
            .attr("d", `M${cx - k},${cy - k}L${cx + k},${cy + k}M${cx - k},${cy + k}L${cx + k},${cy - k}`)
            .attr("stroke", "#000").attr("stroke-width", 1);
    });

    // point labels
    [...p.red, ...p.squares].filter((d) => d[2]).forEach((d) => {
        const [dx, dy, anchor] = p.labelPos[d[2]];
        g.append("text").attr("font-size", FONT)
            .attr("x", x(d[0]) + dx).attr("y", y(d[1]) + dy)
            .attr("text-anchor", anchor).text(d[2]);
    });

    // reddening arrow
    if (p.arrow) {
        g.append("line")
            .attr("x1", x(p.arrow[0][0])).attr("y1", y(p.arrow[0][1]))
            .attr("x2", x(p.arrow[1][0])).attr("y2", y(p.arrow[1][1]))
            .attr("stroke", "#0000ff").attr("stroke-width", 1.2)
            .attr("marker-end", "url(#head)");
    }

    // annotations
    p.notes.forEach((n) => {
        richText(g, n.parts).attr("x", x(n.at[0])).attr("y", y(n.at[1]));
    });

    g.append("rect")
        .attr("x", p.left).attr("y", p.top)
        .attr("width", p.right - p.left).attr("height", p.bottom - p.top)
        .attr("fill", "none").attr("stroke", "#000").attr("stroke-width", 2);
};

const AK = (v) => [["A", false], ["K", true], [`=${v} mag`, false]];
const small = { gray: 1.9, green: 3.9, blue: 5.6, red: 5.5 };

drawPanel({
    name: "a", left: 72.4, right: 577.3, top: 11, bottom: 684,
    xDomain: [-1, 3], yDomain: [15, 6], xTicks: aXTicks, yTicks: aYTicks, xMinor: 5, yMinor: 5,
    xTitle: [["[4.5] - [8.0]", false]], yTitle: [["[4.5]", false]], yTitleX: 22,
    gray: aGray, grayCross: aGrayCross, green: aGreen, blue: aBlue, squares: aSquares, red: aRed,
    grayColor: "#7f7f7f", r: { gray: 2, green: 4.5, blue: 6.7, red: 6.4 },
    grayLines: aLines, lineColor: "#000", arrow: aArrow,
    labelPos: { "3": [12.6, 8.5, "start"], "2": [0, 35, "middle"], "17": [13, 8.5, "start"], "243": [10, 8.5, "start"], "9": [-3, 27, "end"] },
    notes: [
        { at: [-0.694, 6.615], parts: [["(a)", false]] },
        { at: [0.304, 6.775], parts: AK(2) },
        { at: [1.70, 14.62], parts: [["AGN", false]] }
    ]
});

drawPanel({
    name: "b", left: 702.9, right: 1207.3, top: 10, bottom: 295,
    xDomain: [-0.5, 2], yDomain: [-0.5, 1.6], xTicks: bXTicks, yTicks: bYTicks, xMinor: 5, yMinor: 5,
    xTitle: [["[5.8] - [8.0]", false]], yTitle: [["[4.5] - [5.8]", false]], yTitleX: 635,
    gray: bGray, green: bGreen, blue: bBlue, squares: bSquares, red: bRed,
    grayColor: "#9a9a9a", r: small, grayLines: bGrayLines, arrow: bArrow,
    labelPos: { "243": [11.4, 8.5, "start"], "3": [10, 8.5, "start"], "2": [0, -10.6, "middle"], "17": [0, -10, "middle"], "9": [10.6, 8, "start"] },
    notes: [
        { at: [-0.361, 1.308], parts: [["(b)", false]] },
        { at: [-0.09, 1.057], parts: AK(5) },
        { at: [1.407, -0.367], parts: [["PAH", false]] }
    ]
});

drawPanel({
    name: "c", left: 1332.3, right: 1836.4, top: 10, bottom: 295,
    xDomain: [-0.5, 3], yDomain: [-0.5, 2.5], xTicks: cXTicks, yTicks: cYTicks, xMinor: 5, yMinor: 5,
    xTitle: [["[4.5] - [8.0]", false]], yTitle: [["[3.6] - [5.8]", false]], yTitleX: 1268,
    gray: cGray, green: cGreen, blue: cBlue, squares: cSquares, red: cRed,
    grayColor: "#9a9a9a", r: small, grayLines: cGrayLines, blueLines: cBlueLines, arrow: cArrow,
    labelPos: { "243": [11, 8.5, "start"], "3": [12, 8.5, "start"], "2": [12, 8.5, "start"], "17": [0, -13, "middle"], "9": [-5.5, -8, "middle"] },
    notes: [
        { at: [-0.328, 2.08], parts: [["(c)", false]] },
        { at: [-0.195, 1.73], parts: AK(2) },
        { at: [1.307, 1.9], parts: [["Class II", false]] },
        { at: [2.003, -0.395], parts: [["PAH", false]] }
    ]
});

drawPanel({
    name: "d", left: 702.9, right: 1207.3, top: 400.7, bottom: 684,
    xDomain: [-0.5, 1.5], yDomain: [-0.59, 1.6], xTicks: dXTicks, yTicks: dYTicks, xMinor: 5, yMinor: 5,
    xTitle: [["[4.5] - [5.8]", false]], yTitle: [["[3.6] - [4.5]", false]], yTitleX: 635,
    gray: dGray, green: dGreen, blue: dBlue, squares: dSquares, red: dRed,
    grayColor: "#9a9a9a", r: small, grayLines: dGrayLines, blueLines: dBlueLines, arrow: dArrow,
    labelPos: { "243": [12, 8.5, "start"], "3": [2.4, -5.7, "start"], "2": [12, 8.5, "start"], "17": [0, -7.3, "middle"], "9": [9, 8.5, "start"] },
    notes: [
        { at: [-0.358, -0.466], parts: [["(d)", false]] },
        { at: [-0.398, 1.243], parts: [["Shock emission", false]] },
        { at: [0.80, 0.845], parts: [["Class I", false]] },
        { at: [0.94, -0.194], parts: AK(2) },
        { at: [0.505, -0.454], parts: [["PAH contam. ap.", false]] }
    ]
});

drawPanel({
    name: "e", left: 1332.3, right: 1836.4, top: 400.7, bottom: 685,
    xDomain: [-0.4, 1.2], yDomain: [-0.5, 3], xTicks: eXTicks, yTicks: eYTicks, xMinor: 5, yMinor: 3,
    xTitle: [["([3.6] - [4.5])", false], ["0", true]],
    yTitle: [["(K", false], ["S", true], [" - [3.6])", false], ["0", true]], yTitleX: 1268,
    gray: eGray, green: eGreen, blue: eBlue, squares: eSquares, red: eRed,
    grayColor: "#9a9a9a", r: small, blueLines: eBlueLines,
    labelPos: { "3": [9.3, 8.5, "start"], "17": [0, -12.7, "middle"], "2": [15, 8.5, "start"], "9": [9, 9, "start"], "243": [4, 25.5, "middle"] },
    notes: [
        { at: [-0.296, 2.455], parts: [["(e)", false]] },
        { at: [0.80, 1.41], parts: [["Class I", false]] },
        { at: [0.602, 0.139], parts: [["Class II", false]] }
    ]
});
</script>
</body>
</html>
